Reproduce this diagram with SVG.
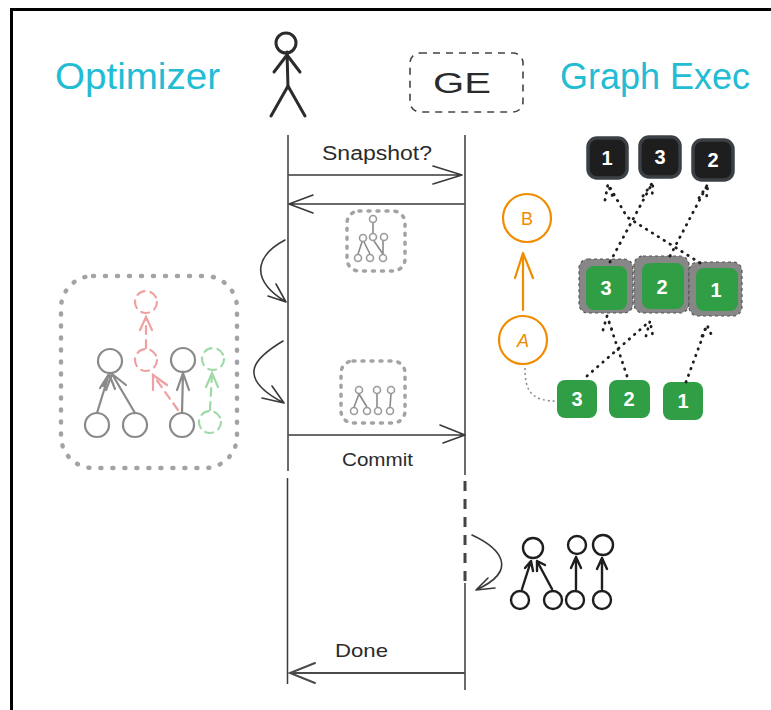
<svg xmlns="http://www.w3.org/2000/svg" width="771" height="710" viewBox="0 0 771 710">
  <defs>
    <style>
      .title { font-family: "Liberation Sans", Arial, sans-serif; font-size: 36px; fill: #22bcd4; }
      .hand { font-family: "Liberation Sans", Arial, sans-serif; fill: #2b2b2b; }
      .life { stroke: #3a3a3a; stroke-width: 1.5; fill: none; }
      .msg { stroke: #3a3a3a; stroke-width: 1.6; fill: none; stroke-linecap: round; stroke-linejoin: round; }
      .dotbox { fill: none; stroke: #a3a3a3; stroke-width: 4.5; stroke-linecap: round; stroke-dasharray: 1 11; }
      .dotbox-s { fill: none; stroke: #a3a3a3; stroke-width: 3.5; stroke-linecap: round; stroke-dasharray: 2 7; }
      .gnode { fill: none; stroke: #8a8a8a; stroke-width: 2.2; }
      .gedge { fill: none; stroke: #8a8a8a; stroke-width: 2.2; stroke-linecap: round; }
      .red { fill: none; stroke: #f0a0a0; stroke-width: 2.2; stroke-dasharray: 8 6; stroke-linecap: round; }
      .green { fill: none; stroke: #9fd9a6; stroke-width: 2.2; stroke-dasharray: 8 6; stroke-linecap: round; }
      .mini { fill: #fff; stroke: #9a9a9a; stroke-width: 1.6; }
      .miniedge { fill: none; stroke: #8a8a8a; stroke-width: 1.6; }
      .orange { fill: none; stroke: #f08c00; stroke-width: 2.2; stroke-linecap: round; stroke-linejoin: round; }
      .blk { fill: #1e1e1e; stroke: #3b4046; stroke-width: 3.5; }
      .grn { fill: #2f9e44; }
      .halo { fill: #878787; stroke: #555; stroke-width: 1.2; stroke-dasharray: 3 3; }
      .num { font-family: "Liberation Sans", Arial, sans-serif; font-size: 20px; font-weight: bold; fill: #ffffff; text-anchor: middle; }
      .dots { fill: none; stroke: #1e1e1e; stroke-width: 2.8; stroke-linecap: round; stroke-dasharray: 0.5 6.5; }
      .bnode { fill: none; stroke: #1e1e1e; stroke-width: 2.4; }
      .bedge { fill: none; stroke: #1e1e1e; stroke-width: 2.4; stroke-linecap: round; stroke-linejoin: round; }
    </style>
  </defs>

  <rect width="771" height="710" fill="#ffffff"/>
  <!-- outer frame -->
  <rect x="11.5" y="9.5" width="800" height="760" fill="none" stroke="#000" stroke-width="3"/>

  <!-- titles -->
  <text class="title" x="55" y="89" textLength="165" lengthAdjust="spacingAndGlyphs">Optimizer</text>
  <text class="title" x="560" y="89" textLength="190" lengthAdjust="spacingAndGlyphs">Graph Exec</text>

  <!-- actor: optimizer -->
  <g id="actor-optimizer" fill="none" stroke="#2b2b2b" stroke-width="3" stroke-linecap="round">
    <circle cx="286" cy="43" r="10"/>
    <path d="M287 52 L288 88"/>
    <path d="M287 55 L274 72 M287 55 L300 72"/>
    <path d="M288 86 L271 116 M288 86 L305 116"/>
  </g>

  <!-- participant: GE -->
  <g id="participant-ge">
    <rect x="410" y="53" width="113" height="59" rx="10" fill="none" stroke="#444" stroke-width="1.6" stroke-dasharray="7 6"/>
    <text class="hand" x="462" y="93" font-size="30" text-anchor="middle" textLength="58" lengthAdjust="spacingAndGlyphs">GE</text>
  </g>

  <!-- lifelines -->
  <g id="lifelines">
    <path class="life" d="M288 135 L288 471 M287.5 478 L287.5 684"/>
    <path class="life" d="M465 135 L465 475"/>
    <path d="M465 481 L465 583" stroke="#444" stroke-width="3" stroke-dasharray="10 8" fill="none"/>
    <path class="life" d="M465 583 L465 690"/>
  </g>

  <!-- messages and curved connectors -->
  <g id="connectors">
    <text class="hand" x="322" y="160" font-size="20" textLength="110" lengthAdjust="spacingAndGlyphs">Snapshot?</text>
    <path class="msg" d="M289 175 L462 175 M433 166 L462 175 L433 184"/>
    <path class="msg" d="M464 204 L289 204 M313 195 L289 204 L313 213"/>
    <path class="msg" d="M285 240 C262 252 244 276 286 302 M268 296 L286 302 M276 284 L286 302"/>
    <path class="msg" d="M283 341 C258 356 232 376 284 403 M262 398 L284 403 M272 386 L284 403"/>
    <path class="msg" d="M289 435 L465 435 M440 425 L465 435 M443 443 L465 435"/>
    <text class="hand" x="342" y="466" font-size="19" textLength="71" lengthAdjust="spacingAndGlyphs">Commit</text>
    <text class="hand" x="335" y="657" font-size="19" textLength="53" lengthAdjust="spacingAndGlyphs">Done</text>
    <path d="M464 673 L290 673 M315 663 L290 673 L315 683" fill="none" stroke="#4a4a4a" stroke-width="2" stroke-linecap="round"/>
    <path class="msg" d="M472 535 C500 548 520 570 476 590 M488 578 L476 590 L495 588"/>
  </g>

  <!-- optimizer working graph -->
  <g id="opt-graph">
    <rect class="dotbox" x="61" y="276" width="176" height="192" rx="32"/>
    <circle class="gnode" cx="110" cy="361" r="12"/>
    <circle class="gnode" cx="97" cy="425" r="12"/>
    <circle class="gnode" cx="135" cy="425" r="12"/>
    <circle class="gnode" cx="183" cy="360" r="12"/>
    <circle class="gnode" cx="182" cy="425" r="12"/>
    <path class="gedge" d="M97 413 L109 374 M100 388 L109 374 L115 389 M103 386 L109 374"/>
    <path class="gedge" d="M135 413 L112 374 M106 390 L112 374 L126 385"/>
    <path class="gedge" d="M182 413 L183 373 M177 390 L183 373 L189 390"/>
    <circle class="red" cx="146" cy="302" r="11"/>
    <circle class="red" cx="146" cy="360" r="11"/>
    <path class="red" d="M146 348 L146 317"/>
    <path d="M140 330 L146 317 L152 330" fill="none" stroke="#f0a0a0" stroke-width="2.2" stroke-linecap="round"/>
    <path class="red" d="M178 410 L153 375"/>
    <path d="M153 390 L153 375 L167 385" fill="none" stroke="#f0a0a0" stroke-width="2.2" stroke-linecap="round"/>
    <circle class="green" cx="213" cy="359" r="11"/>
    <circle class="green" cx="210" cy="422" r="11"/>
    <path class="green" d="M210 410 L212 373"/>
    <path d="M206 387 L212 373 L218 387" fill="none" stroke="#9fd9a6" stroke-width="2.2" stroke-linecap="round"/>
  </g>

  <!-- snapshot thumbnail -->
  <g id="snapshot">
    <rect class="dotbox-s" x="347" y="211" width="58" height="60" rx="12"/>
    <path class="miniedge" d="M373 233 L373 223 M358 254 L362 242 M370 254 L364 242 M383 254 L374 241 M383 254 L383 241"/>
    <circle class="mini" cx="373" cy="219" r="3.5"/>
    <circle class="mini" cx="363" cy="238" r="3.5"/>
    <circle class="mini" cx="373" cy="237" r="3.5"/>
    <circle class="mini" cx="384" cy="237" r="3.5"/>
    <circle class="mini" cx="358" cy="258" r="3.5"/>
    <circle class="mini" cx="370" cy="258" r="3.5"/>
    <circle class="mini" cx="383" cy="258" r="3.5"/>
  </g>

  <!-- committed graph thumbnail -->
  <g id="commit-graph">
    <rect class="dotbox-s" x="341" y="361" width="64" height="62" rx="12"/>
    <path class="miniedge" d="M354 407 L359 394 M367 407 L359 394 M377 407 L377 394 M390 407 L391 394"/>
    <circle class="mini" cx="359" cy="390" r="3.5"/>
    <circle class="mini" cx="377" cy="390" r="3.5"/>
    <circle class="mini" cx="391" cy="390" r="3.5"/>
    <circle class="mini" cx="354" cy="411" r="3.5"/>
    <circle class="mini" cx="367" cy="411" r="3.5"/>
    <circle class="mini" cx="378" cy="411" r="3.5"/>
    <circle class="mini" cx="390" cy="411" r="3.5"/>
  </g>

  <!-- node B -->
  <g id="node-b">
    <circle class="orange" cx="527" cy="218" r="24"/>
    <text x="527" y="225" font-family="Liberation Sans, Arial, sans-serif" font-size="18" fill="#f08c00" text-anchor="middle">B</text>
  </g>
  <!-- node A -->
  <g id="node-a">
    <circle class="orange" cx="523" cy="340" r="24"/>
    <text x="523" y="347" font-family="Liberation Sans, Arial, sans-serif" font-size="18" font-style="italic" fill="#f08c00" text-anchor="middle">A</text>
  </g>
  <g id="edge-a-b">
    <path class="orange" d="M523 310 L523 253 M515 278 L523 253 L533 278"/>
    <path d="M525 368 C525 390 530 402 560 401" fill="none" stroke="#888" stroke-width="1.5" stroke-dasharray="2 3"/>
  </g>

  <!-- exec nodes: top row -->
  <g id="top-1"><rect class="blk" x="588" y="138" width="39" height="40" rx="9"/><text class="num" x="607" y="165">1</text></g>
  <g id="top-3"><rect class="blk" x="640" y="137" width="40" height="40" rx="9"/><text class="num" x="660" y="164">3</text></g>
  <g id="top-2"><rect class="blk" x="693" y="140" width="40" height="40" rx="9"/><text class="num" x="713" y="167">2</text></g>

  <!-- exec nodes: middle row -->
  <g id="mid-3"><rect class="halo" x="579" y="259" width="54" height="54" rx="9"/><rect class="grn" x="586" y="266" width="41" height="44" rx="8"/><text class="num" x="606" y="295">3</text></g>
  <g id="mid-2"><rect class="halo" x="634" y="256" width="55" height="57" rx="9"/><rect class="grn" x="642" y="263" width="42" height="46" rx="8"/><text class="num" x="662" y="294">2</text></g>
  <g id="mid-1"><rect class="halo" x="689" y="262" width="53" height="54" rx="9"/><rect class="grn" x="696" y="268" width="42" height="43" rx="8"/><text class="num" x="716" y="297">1</text></g>

  <!-- exec nodes: bottom row -->
  <g id="bot-3"><rect class="grn" x="557" y="380" width="40" height="38" rx="8"/><text class="num" x="577" y="406">3</text></g>
  <g id="bot-2"><rect class="grn" x="609" y="380" width="41" height="38" rx="8"/><text class="num" x="629" y="406">2</text></g>
  <g id="bot-1"><rect class="grn" x="663" y="382" width="40" height="38" rx="8"/><text class="num" x="683" y="408">1</text></g>

  <!-- dependency edges between exec nodes -->
  <g id="exec-edges">
    <path class="dots" d="M700 263 L627 217 L608 184 M605 200 L608 184 L614 200"/>
    <path class="dots" d="M610 262 L653 182 M643 196 L653 182 L652 199"/>
    <path class="dots" d="M670 256 L708 184 M699 198 L708 184 L706 202"/>
    <path class="dots" d="M587 376 L650 321 M646 336 L650 321 L653 337"/>
    <path class="dots" d="M627 376 L607 316 M603 330 L607 316 L612 330"/>
    <path class="dots" d="M686 382 L707 325 M702 336 L707 325 L712 336"/>
  </g>

  <!-- resulting graph after commit -->
  <g id="result-graph">
    <circle class="bnode" cx="533" cy="548" r="10"/>
    <circle class="bnode" cx="577" cy="545" r="9"/>
    <circle class="bnode" cx="603" cy="545" r="10" stroke="#4a5158"/>
    <circle class="bnode" cx="520" cy="600" r="9"/>
    <circle class="bnode" cx="553" cy="600" r="9"/>
    <circle class="bnode" cx="575" cy="600" r="9"/>
    <circle class="bnode" cx="602" cy="600" r="9" stroke="#4a5158"/>
    <path class="bedge" d="M522 589 L531 561 M525 568 L531 561 L533 571"/>
    <path class="bedge" d="M552 589 L537 561 M537 571 L537 561 L545 565"/>
    <path class="bedge" d="M576 589 L576 557 M571 568 L576 557 L581 568"/>
    <path class="bedge" d="M602 589 L602 558 M597 569 L602 558 L607 569" stroke="#4a5158"/>
  </g>
</svg>
